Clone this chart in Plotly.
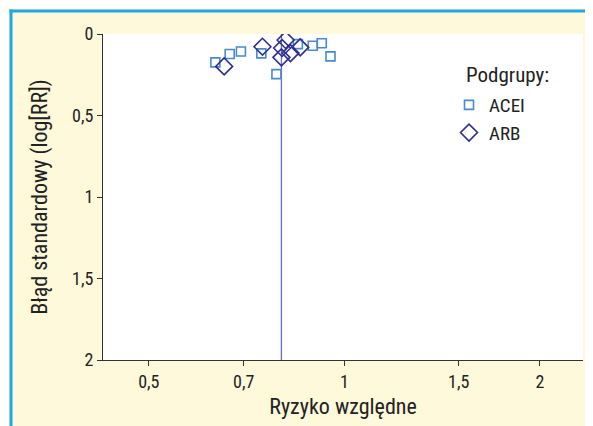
import plotly.graph_objects as go

# Data (relative risk, standard error of log RR)
acei_rr = [0.633, 0.666, 0.693, 0.745, 0.786, 0.848, 0.894, 0.923, 0.952]
acei_se = [0.174, 0.123, 0.107, 0.119, 0.246, 0.062, 0.072, 0.057, 0.137]
arb_rr = [0.653, 0.748, 0.812, 0.802, 0.800, 0.826, 0.855]
arb_se = [0.199, 0.078, 0.037, 0.086, 0.143, 0.117, 0.082]
pooled_rr = 0.80

x_ticks = [0.5, 0.7, 1, 1.5, 2]
x_ticktext = ["0,5", "0,7", "1", "1,5", "2"]
y_ticks = [0, 0.5, 1, 1.5, 2]
y_ticktext = ["0", "0,5", "1", "1,5", "2"]

FONT = "Liberation Sans Narrow, Roboto Condensed, Arial Narrow, sans-serif"

fig = go.Figure()
fig.add_trace(go.Scatter(x=[pooled_rr, pooled_rr], y=[0, 2], mode="lines",
                         line=dict(color="#6a6ac0", width=1.3),
                         showlegend=False, hoverinfo="skip"))
fig.add_trace(go.Scatter(x=acei_rr, y=acei_se, mode="markers", name="ACEI",
                         marker=dict(symbol="square-open", size=9,
                                     color="#4a8ad0", line=dict(width=1.6))))
fig.add_trace(go.Scatter(x=arb_rr, y=arb_se, mode="markers", name="ARB",
                         marker=dict(symbol="diamond-open", size=13,
                                     color="#2e2e90", line=dict(width=1.6))))

# figure is placed at page offset (8, 8) by the default body margin
W, H = 585, 418
L, R, T, B = 95, 10, 26, 66
pw, ph = W - L - R, H - T - B


def px_x(p):
    return (p - L) / pw


def px_y(p):
    return (H - B - p) / ph


cream = "#fef9da"
border = "#1ea6e6"
shapes = [
    dict(type="line", xref="paper", yref="paper", x0=px_x(3), x1=px_x(3),
         y0=px_y(1.5), y1=px_y(H + 5), line=dict(color=border, width=3)),
    dict(type="line", xref="paper", yref="paper", x0=px_x(1.5), x1=px_x(W + 5),
         y0=px_y(3), y1=px_y(3), line=dict(color=border, width=3)),
]

fig.add_annotation(text="Podgrupy:", xref="paper", yref="paper",
                   x=px_x(456), y=px_y(67), xanchor="left", yanchor="middle",
                   showarrow=False, font=dict(size=21, color="#222222"))

fig.update_layout(
    width=W, height=H,
    margin=dict(l=L, r=R, t=T, b=B),
    paper_bgcolor=cream,
    plot_bgcolor="white",
    font=dict(family=FONT, size=18, color="#222222"),
    shapes=shapes,
    legend=dict(
        x=px_x(441), y=px_y(78), xanchor="left", yanchor="top",
        bgcolor="rgba(0,0,0,0)", font=dict(size=19), itemwidth=30,
        tracegroupgap=0,
    ),
    xaxis=dict(
        type="log", range=[-0.3716, 0.3674],
        tickvals=x_ticks, ticktext=x_ticktext,
        ticks="outside", ticklen=5, tickcolor="#333",
        tickfont=dict(size=18),
        showline=True, linecolor="#333", linewidth=1,
        showgrid=False, zeroline=False,
        title=dict(text="Ryzyko względne", standoff=8),
    ),
    yaxis=dict(
        range=[2, 0],
        tickvals=y_ticks, ticktext=y_ticktext,
        ticks="outside", ticklen=5, tickcolor="#333",
        tickfont=dict(size=18),
        showline=True, linecolor="#333", linewidth=1,
        showgrid=False, zeroline=False,
        title=dict(text="Błąd standardowy (log[RR])", standoff=18),
    ),
)

fig.write_html("out.html")
